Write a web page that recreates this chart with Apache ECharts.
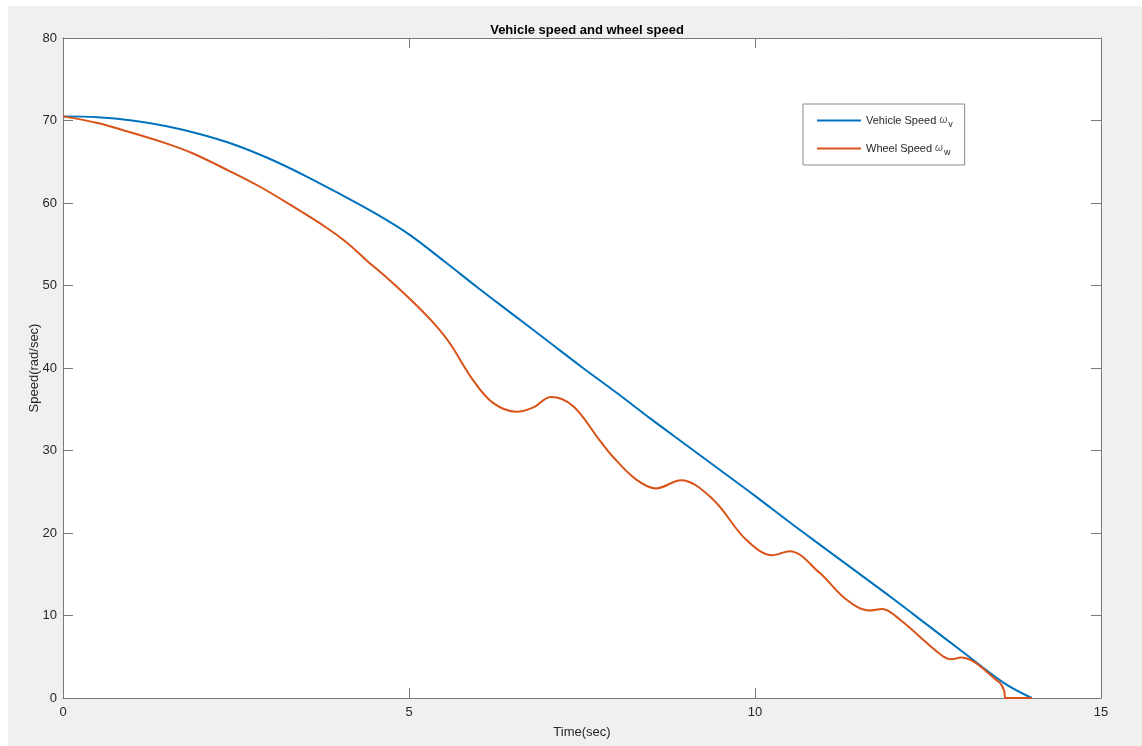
<!DOCTYPE html>
<html>
<head>
<meta charset="utf-8">
<script src="https://cdn.jsdelivr.net/npm/echarts@6/dist/echarts.min.js"></script>
<style>
  html, body { margin: 0; padding: 0; background: #ffffff; }
  #chart { position: absolute; left: 8px; top: 6px; width: 1134px; height: 740px; }
</style>
</head>
<body>
<div id="chart"></div>
<script>
// ---- data ----
const titleText = 'Vehicle speed and wheel speed';
const xName = 'Time(sec)';
const yName = 'Speed(rad/sec)';
const xTicks = [0, 5, 10, 15];
const yTicks = [0, 10, 20, 30, 40, 50, 60, 70, 80];

const timeVehicle = [0, 0.5, 1, 1.5, 2, 2.5, 3, 3.5, 4, 4.5, 5, 5.5, 6, 6.5, 7, 7.5, 8, 8.5, 9, 9.5, 10, 10.5, 11, 11.5, 12, 12.5, 13, 13.6, 14.0];
const vehicleSpeed = [70.5, 70.4, 70.0, 69.3, 68.3, 67.0, 65.3, 63.3, 61.1, 58.8, 56.2, 53.0, 49.7, 46.5, 43.3, 40.1, 37.0, 33.8, 30.7, 27.6, 24.5, 21.3, 18.2, 15.1, 12.0, 8.8, 5.6, 1.8, 0];

const timeWheel = [0, 0.5, 0.92, 1.5, 1.88, 2.4, 2.84, 3.3, 3.81, 4.1, 4.38, 4.7, 5.01, 5.35, 5.59, 5.92, 6.21, 6.55, 6.79, 7.05, 7.37, 7.75, 7.94, 8.28, 8.57, 8.93, 9.39, 9.87, 10.25, 10.5, 10.93, 11.31, 11.65, 11.84, 12.08, 12.71, 12.85, 12.97, 13.53, 13.6, 13.62, 14.0];
const wheelSpeed = [70.5, 69.7, 68.7, 67.2, 66.0, 63.9, 62.0, 59.7, 57.0, 55.2, 53.1, 50.8, 48.4, 45.5, 43.0, 38.6, 35.8, 34.7, 35.2, 36.5, 35.4, 31.3, 29.3, 26.5, 25.4, 26.4, 24.1, 19.2, 17.3, 17.8, 15.2, 12.0, 10.6, 10.8, 9.6, 5.1, 4.7, 4.9, 1.9, 0.9, 0, 0];

const seriesNames = ['Vehicle Speed', 'Wheel Speed'];
const seriesSubs = ['v', 'w'];

// ---- chart ----
const chart = echarts.init(document.getElementById('chart'), null, { renderer: 'canvas' });
const axisColor = '#7a7a7a';
const textColor = '#262626';
const font = 'Arial, "Liberation Sans", Helvetica, sans-serif';

const vehiclePts = timeVehicle.map((t, i) => [t, vehicleSpeed[i]]);
const wheelPts = timeWheel.map((t, i) => [t, wheelSpeed[i]]);

function makeAxis(extra) {
  return Object.assign({
    type: 'value',
    min: 0,
    axisLine: { show: true, onZero: false, lineStyle: { color: axisColor, width: 1 } },
    axisTick: { show: true, inside: true, length: 10, lineStyle: { color: axisColor } },
    splitLine: { show: false }
  }, extra);
}

chart.setOption({
  backgroundColor: '#f0f0f0',
  animation: false,
  title: {
    text: titleText,
    left: 574,
    top: 13,
    textAlign: 'center',
    textStyle: { fontFamily: font, fontSize: 13, fontWeight: 'bold', color: '#000' }
  },
  grid: {
    left: 55, top: 32, right: 41, bottom: 48,
    show: true, backgroundColor: '#ffffff', borderWidth: 0
  },
  legend: {
    left: 795,
    top: 98,
    orient: 'vertical',
    backgroundColor: '#ffffff',
    borderColor: '#8a8a8a',
    borderWidth: 1,
    borderRadius: 0,
    padding: [11, 12, 8, 14],
    itemWidth: 44,
    itemHeight: 2,
    itemGap: 14,
    icon: 'rect',
    data: seriesNames,
    formatter: function (name) {
      const i = seriesNames.indexOf(name);
      return name + ' {w|\u03c9}{s|' + seriesSubs[i] + '}';
    },
    textStyle: {
      fontFamily: font, fontSize: 11, color: textColor,
      rich: {
        w: { fontFamily: font, fontSize: 10, fontStyle: 'italic', color: '#555' },
        s: { fontFamily: font, fontSize: 9, color: textColor, padding: [8, 0, 0, 1] }
      }
    }
  },
  xAxis: [
    makeAxis({
      position: 'bottom', max: 15, interval: 5,
      name: xName, nameLocation: 'middle', nameGap: 28, nameMoveOverlap: false,
      nameTextStyle: { fontFamily: font, fontSize: 13, color: textColor },
      axisLabel: { show: true, margin: 8, fontFamily: font, fontSize: 13, color: textColor,
        formatter: v => xTicks.includes(v) ? String(v) : '' }
    }),
    makeAxis({
      position: 'top', max: 15, interval: 5,
      axisLabel: { show: false }
    })
  ],
  yAxis: [
    makeAxis({
      position: 'left', max: 80, interval: 10,
      name: yName, nameLocation: 'middle', nameGap: 22, nameMoveOverlap: false,
      nameTextStyle: { fontFamily: font, fontSize: 13, color: textColor },
      axisLabel: { show: true, margin: 6, fontFamily: font, fontSize: 13, color: textColor,
        formatter: v => yTicks.includes(v) ? String(v) : '' }
    }),
    makeAxis({
      position: 'right', max: 80, interval: 10,
      axisLabel: { show: false }
    })
  ],
  series: [
    {
      name: seriesNames[0], type: 'line', xAxisIndex: 0, yAxisIndex: 0,
      data: vehiclePts, showSymbol: false, smooth: 0.35,
      lineStyle: { color: '#0072BD', width: 2 }, itemStyle: { color: '#0072BD' }
    },
    {
      name: seriesNames[1], type: 'line', xAxisIndex: 0, yAxisIndex: 0,
      data: wheelPts, showSymbol: false, smooth: 0.35,
      lineStyle: { color: '#D95319', width: 2 }, itemStyle: { color: '#D95319' }
    }
  ]
});
</script>
</body>
</html>
